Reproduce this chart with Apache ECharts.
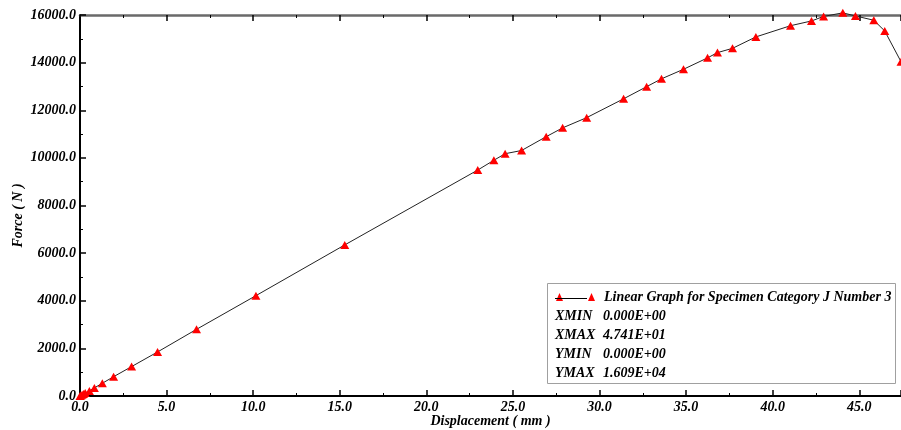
<!DOCTYPE html>
<html>
<head>
<meta charset="utf-8">
<script src="https://cdn.jsdelivr.net/npm/echarts@6/dist/echarts.min.js"></script>
<style>
  html, body { margin: 0; padding: 0; background: #fff; }
  #main { width: 901px; height: 430px; }
</style>
</head>
<body>
<div id="main"></div>
<script>
var dom = document.getElementById("main");
var myChart = echarts.init(dom, null, { renderer: "canvas" });

// displacement (mm) and force (N)
var displacement = [0, 0.05, 0.12, 0.2, 0.3, 0.54, 0.83, 1.29, 1.94, 2.98, 4.48, 6.73,
  10.16, 15.29, 22.97, 23.9, 24.55, 25.5, 26.92, 27.87, 29.26, 31.39, 32.72, 33.58,
  34.85, 36.24, 36.81, 37.68, 39.03, 41.03, 42.24, 42.94, 44.05, 44.78, 45.84, 46.47, 47.41];
var force = [0, 20, 50, 83, 125, 215, 340, 535, 810, 1235, 1850, 2800,
  4215, 6345, 9490, 9900, 10175, 10310, 10890, 11260, 11690, 12480, 12990, 13320,
  13720, 14200, 14420, 14600, 15080, 15550, 15750, 15940, 16090, 15960, 15780, 15330, 14040];

var seriesName = "Linear Graph for Specimen Category J Number 3";
var statNames = ["XMIN", "XMAX", "YMIN", "YMAX"];
var statValues = ["0.000E+00", "4.741E+01", "0.000E+00", "1.609E+04"];

var font = "Liberation Serif";
var points = [];
for (var i = 0; i < displacement.length; i++) {
  points.push([displacement[i], force[i]]);
}

var labelStyle = {
  fontFamily: font, fontStyle: "italic", fontWeight: "bold", fontSize: 14, color: "#000"
};

var graphics = [{
  type: "rect",
  shape: { x: 547.5, y: 283.5, width: 348, height: 100 },
  style: { fill: "#fff", stroke: "#a0a0a0", lineWidth: 1 },
  z: 1
}, {
  type: "line",
  shape: { x1: 555, y1: 298.5, x2: 587, y2: 298.5 },
  style: { stroke: "#000", lineWidth: 1 },
  z: 10
}];
for (var k = 0; k < statNames.length; k++) {
  graphics.push({
    type: "text", x: 555, y: 316 + k * 19, z: 10,
    style: Object.assign({ text: statNames[k], verticalAlign: "middle" }, labelStyle, { fill: "#000" })
  });
  graphics.push({
    type: "text", x: 603, y: 316 + k * 19, z: 10,
    style: Object.assign({ text: statValues[k], verticalAlign: "middle" }, labelStyle, { fill: "#000" })
  });
}

var option = {
  animation: false,
  grid: { left: 80, right: 0, top: 15, bottom: 34, containLabel: false, outerBoundsMode: "none" },
  legend: {
    data: [seriesName],
    left: 551, top: 285,
    itemWidth: 39, itemHeight: 8,
    icon: "path://M0,8L3.5,0L7,8Z M32,8L35.5,0L39,8Z",
    itemStyle: { color: "#ff0000" },
    textStyle: Object.assign({ padding: [0, 0, 0, 4] }, labelStyle),
    z: 5
  },
  xAxis: [{
    type: "value",
    min: 0, max: 47.41, interval: 5,
    name: "Displacement ( mm )",
    nameLocation: "middle",
    nameMoveOverlap: false,
    nameGap: 18,
    nameTextStyle: labelStyle,
    axisLine: { lineStyle: { color: "#000", width: 2 } },
    axisTick: { inside: true, length: 6, lineStyle: { color: "#000", width: 1.5 } },
    minorTick: { show: true, splitNumber: 2, length: 3, lineStyle: { color: "#000" } },
    axisLabel: Object.assign({ margin: 4, showMaxLabel: false, formatter: function (v) { return v.toFixed(1); } }, labelStyle),
    splitLine: { show: false }
  }, {
    type: "value",
    position: "top",
    min: 0, max: 47.41, interval: 5,
    axisLine: { lineStyle: { color: "#6a6a6a", width: 2.5 } },
    axisTick: { inside: true, length: 6, lineStyle: { color: "#000", width: 1.5 } },
    minorTick: { show: true, splitNumber: 2, length: 3, lineStyle: { color: "#000" } },
    axisLabel: { show: false },
    splitLine: { show: false }
  }],
  yAxis: {
    type: "value",
    min: 0, max: 16000, interval: 2000,
    name: "Force ( N )",
    nameLocation: "middle",
    nameMoveOverlap: false,
    nameGap: 55,
    nameTextStyle: Object.assign({ padding: [0, 20, 0, 0] }, labelStyle),
    axisLine: { show: true, lineStyle: { color: "#000", width: 2 } },
    axisTick: { show: true, inside: true, length: 6, lineStyle: { color: "#000", width: 1.5 } },
    minorTick: { show: true, splitNumber: 2, length: 3, lineStyle: { color: "#000" } },
    axisLabel: Object.assign({ margin: 4, formatter: function (v) { return v.toFixed(1); } }, labelStyle),
    splitLine: { show: false }
  },
  graphic: graphics,
  series: [{
    name: seriesName,
    type: "line",
    data: points,
    clip: false,
    symbol: "triangle",
    symbolSize: [9, 8],
    itemStyle: { color: "#ff0000" },
    lineStyle: { color: "#222", width: 1 },
    z: 3
  }]
};

myChart.setOption(option);
</script>
</body>
</html>
